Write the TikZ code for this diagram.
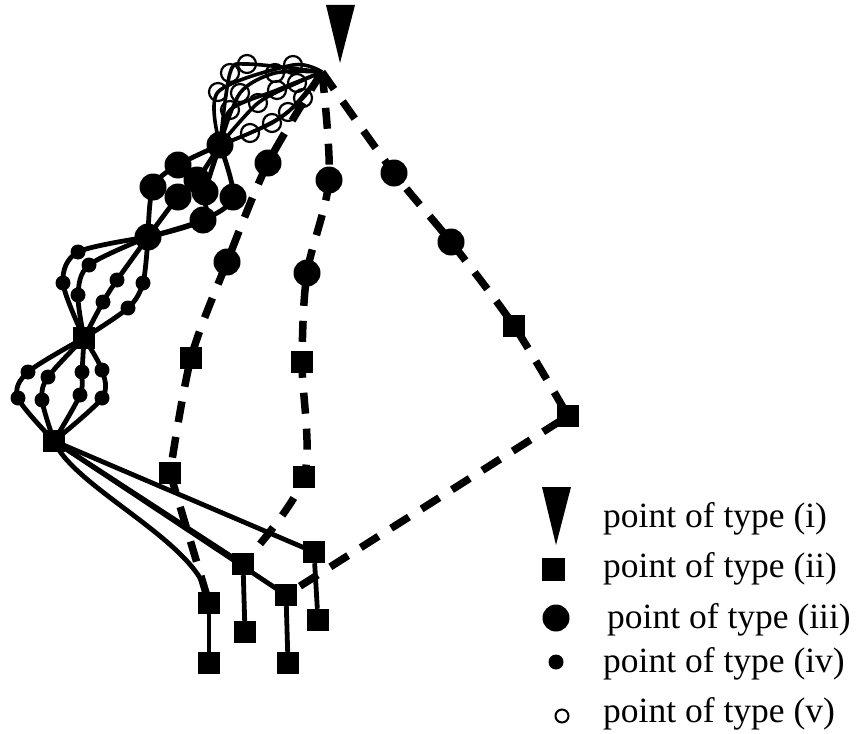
\documentclass[tikz,border=0pt]{standalone}
\usepackage{fontspec}
\setmainfont{Liberation Serif}
\begin{document}
\begin{tikzpicture}[x=1pt,y=-1pt,
  sq/.style={rectangle,fill=black,minimum size=22pt,inner sep=0pt},
  big/.style={circle,fill=black,minimum size=27pt,inner sep=0pt},
  dot/.style={circle,fill=black,minimum size=15pt,inner sep=0pt},
  ring/.style={circle,draw=black,line width=2.2pt,minimum size=18pt,inner sep=0pt},
  conn/.style={line width=4.8pt},
  vconn/.style={line width=3.6pt},
  dashedconn/.style={line width=7.5pt,dash pattern=on 21pt off 15pt},
  lbl/.style={anchor=base west,inner sep=0pt,font=\fontsize{35.5}{40}\selectfont}
]
\useasboundingbox (0,0) rectangle (856,733);

% type (i) point
\fill (326,5) -- (355,5) -- (340,63) -- cycle;
\coordinate (V) at (322,72);

% type (iii) cluster
\node[big] (C0) at (220,145) {};
\node[big] (C9) at (148,237) {};
\node[big] (m1) at (178,165) {};
\node[big] (m2) at (153,187) {};
\node[big] (m3) at (197,180) {};
\node[big] (m4) at (178,197) {};
\node[big] (m5) at (205,192) {};
\node[big] (m6) at (233,197) {};
\node[big] (m7) at (203,220) {};

% type (ii) squares of the chain
\node[sq] (S1) at (84,338) {};
\node[sq] (S2) at (54,441) {};

% type (iv) dots between C9 and S1
\node[dot] (qa1) at (78,252) {};
\node[dot] (qa2) at (63,283) {};
\node[dot] (qb1) at (89,265) {};
\node[dot] (qb2) at (78,295) {};
\node[dot] (qc1) at (117,280) {};
\node[dot] (qc2) at (103,302) {};
\node[dot] (qd1) at (143,283) {};
\node[dot] (qd2) at (128,308) {};

% type (iv) dots between S1 and S2
\node[dot] (ra1) at (28,372) {};
\node[dot] (ra2) at (18,398) {};
\node[dot] (rb1) at (48,377) {};
\node[dot] (rb2) at (42,400) {};
\node[dot] (rc1) at (82,372) {};
\node[dot] (rc2) at (80,395) {};
\node[dot] (rd1) at (102,370) {};
\node[dot] (rd2) at (102,398) {};

% type (v) rings between C0 and V
\node[ring] (va1) at (250,133) {};
\node[ring] (va2) at (288,112) {};
\node[ring] (vb1) at (272,123) {};
\node[ring] (vb2) at (303,98) {};
\node[ring] (vc1) at (258,103) {};
\node[ring] (vc2) at (297,83) {};
\node[ring] (vd1) at (230,110) {};
\node[ring] (vd2) at (277,90) {};
\node[ring] (ve1) at (240,93) {};
\node[ring] (ve2) at (275,73) {};
\node[ring] (vf1) at (218,92) {};
\node[ring] (vf2) at (293,65) {};
\node[ring] (vg1) at (230,73) {};
\node[ring] (vg2) at (247,64) {};

% dashed branches
\node[big] (L1) at (268,163) {};
\node[big] (L2) at (227,262) {};
\node[sq] (L3) at (191,358) {};
\node[sq] (L4) at (170,473) {};
\node[big] (M1) at (329,180) {};
\node[big] (M2) at (307,273) {};
\node[sq] (M3) at (302,362) {};
\node[sq] (M4) at (304,477) {};
\node[big] (R1) at (394,173) {};
\node[big] (R2) at (451,242) {};
\node[sq] (R3) at (514,326) {};
\node[sq] (R4) at (568,416) {};

% bottom squares
\node[sq] (t1) at (243,564) {};
\node[sq] (t2) at (286,595) {};
\node[sq] (t3) at (314,552) {};
\node[sq] (b1) at (209,603) {};
\node[sq] (b2) at (209,663) {};
\node[sq] (b3) at (245,632) {};
\node[sq] (b4) at (288,663) {};
\node[sq] (b5) at (318,620) {};

% ---- connectors ----
\draw[dashedconn] plot[smooth] coordinates {(V) (L1.center) (L2.center) (L3.center) (L4.center)} -- (b1.center);
\draw[dashedconn] plot[smooth] coordinates {(V) (M1.center) (M2.center) (M3.center) (M4.center) (t1.center)};
\draw[dashedconn] plot[smooth] coordinates {(V) (R1.center) (R2.center) (R3.center) (R4.center)} -- (t2.center);

\draw[vconn] plot[smooth] coordinates {(C0.center) (va1.center) (va2.center) (V)};
\draw[vconn] plot[smooth] coordinates {(C0.center) (vb1.center) (vb2.center) (V)};
\draw[vconn] plot[smooth] coordinates {(C0.center) (vc1.center) (vc2.center) (V)};
\draw[vconn] plot[smooth] coordinates {(C0.center) (vd1.center) (vd2.center) (V)};
\draw[vconn] plot[smooth] coordinates {(C0.center) (ve1.center) (ve2.center) (V)};
\draw[vconn] plot[smooth] coordinates {(C0.center) (vf1.center) (vf2.center) (V)};
\draw[vconn] plot[smooth] coordinates {(C0.center) (vg1.center) (vg2.center) (V)};

\draw[conn] plot[smooth] coordinates {(C0.center) (m1.center) (m2.center) (C9.center)};
\draw[conn] plot[smooth] coordinates {(C0.center) (m3.center) (m4.center) (C9.center)};
\draw[conn] plot[smooth] coordinates {(C0.center) (m5.center) (m7.center) (C9.center)};
\draw[conn] plot[smooth] coordinates {(C0.center) (m6.center) (m7.center) (C9.center)};

\draw[conn] plot[smooth] coordinates {(C9.center) (qa1.center) (qa2.center) (S1.center)};
\draw[conn] plot[smooth] coordinates {(C9.center) (qb1.center) (qb2.center) (S1.center)};
\draw[conn] plot[smooth] coordinates {(C9.center) (qc1.center) (qc2.center) (S1.center)};
\draw[conn] plot[smooth] coordinates {(C9.center) (qd1.center) (qd2.center) (S1.center)};

\draw[conn] plot[smooth] coordinates {(S1.center) (ra1.center) (ra2.center) (S2.center)};
\draw[conn] plot[smooth] coordinates {(S1.center) (rb1.center) (rb2.center) (S2.center)};
\draw[conn] plot[smooth] coordinates {(S1.center) (rc1.center) (rc2.center) (S2.center)};
\draw[conn] plot[smooth] coordinates {(S1.center) (rd1.center) (rd2.center) (S2.center)};

\draw[conn] (S2.center) -- (t3.center);
\draw[conn] (S2.center) -- (t1.center);
\draw[conn] (S2.center) -- (t2.center);
\draw[conn] (S2.center) .. controls (75,490) and (205,545) .. (b1.center);
\draw[conn] (b1) -- (b2);
\draw[conn] (t1) -- (b3);
\draw[conn] (t2) -- (b4);
\draw[conn] (t3) -- (b5);

% ---- legend ----
\fill (542,487) -- (571,487) -- (556,545) -- cycle;
\node[sq,minimum size=23pt] (lg2) at (553,569) {};
\node[big] (lg3) at (556,618) {};
\node[dot,minimum size=15pt] (lg4) at (556,662) {};
\node[ring,minimum size=13pt,line width=2pt] (lg5) at (562,716) {};
\node[lbl] (tx1) at (603,527) {point of type (i)};
\node[lbl] (tx2) at (603,577) {point of type (ii)};
\node[lbl] (tx3) at (607,628) {point of type (iii)};
\node[lbl] (tx4) at (603,672) {point of type (iv)};
\node[lbl] (tx5) at (603,722) {point of type (v)};
\end{tikzpicture}
\end{document}
